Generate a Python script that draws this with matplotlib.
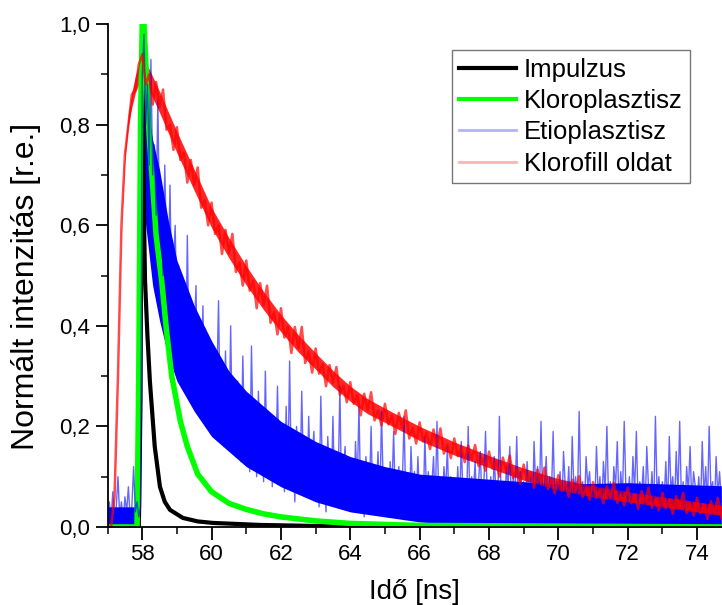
import numpy as np
import matplotlib.pyplot as plt
from matplotlib.lines import Line2D
from matplotlib.ticker import MultipleLocator, FuncFormatter

plt.rcParams['font.family'] = ['Liberation Sans', 'DejaVu Sans']

# Impulzus (fekete)
black_t = [57.0, 57.9, 57.95, 57.98, 58.0, 58.05, 58.08, 58.15, 58.22, 58.36, 58.51,
           58.65, 58.8, 59.17, 59.6, 60.04, 61.4, 63.0, 74.7]
black_v = [0.0, 0.0, 0.25, 0.8, 1.0, 0.62, 0.49, 0.38, 0.29, 0.16, 0.08,
           0.05, 0.034, 0.018, 0.011, 0.008, 0.004, 0.002, 0.001]

# Kloroplasztisz (zold)
green_t = [57.0, 57.85, 57.9, 57.95, 58.0, 58.05, 58.2, 58.4, 58.56, 58.7, 58.85, 59.1,
           59.3, 59.6, 60.0, 60.5, 61.0, 61.5, 62.0, 63.0, 64.0, 66.0, 74.7]
green_v = [0.0, 0.0, 0.3, 0.8, 1.0, 1.0, 0.78, 0.58, 0.49, 0.39, 0.30, 0.21,
           0.16, 0.105, 0.07, 0.047, 0.035, 0.026, 0.02, 0.012, 0.007, 0.003, 0.0]

# Etioplasztisz (kek) - 0.05 ns lepes
blue_t = np.round(np.arange(57.0, 74.701, 0.05), 2)
blue_v = [
    0.03, 0.05, 0.01, 0.07, 0.02, 0.04, 0.10, 0.02, 0.05, 0.01, 0.06, 0.03, 0.08, 0.02, 0.04, 0.12, 0.03, 0.05, 0.02, 0.04,
    0.90, 0.98, 0.80, 0.88, 0.72, 0.93, 0.70, 0.76, 0.62, 0.85, 0.58, 0.66, 0.50, 0.72, 0.55, 0.48, 0.68, 0.45, 0.52, 0.60,
    0.40, 0.52, 0.33, 0.46, 0.38, 0.30, 0.58, 0.35, 0.42, 0.27, 0.38, 0.48, 0.25, 0.34, 0.29, 0.44, 0.22, 0.36, 0.28, 0.31,
    0.24, 0.33, 0.19, 0.28, 0.45, 0.20, 0.26, 0.16, 0.35, 0.22, 0.18, 0.40, 0.17, 0.24, 0.14, 0.29, 0.21, 0.13, 0.34, 0.18,
    0.15, 0.23, 0.11, 0.36, 0.17, 0.20, 0.10, 0.27, 0.14, 0.18, 0.09, 0.31, 0.13, 0.16, 0.22, 0.08, 0.19, 0.12, 0.28, 0.11,
    0.13, 0.18, 0.07, 0.24, 0.11, 0.33, 0.09, 0.15, 0.05, 0.20, 0.12, 0.08, 0.27, 0.10, 0.16, 0.06, 0.22, 0.09, 0.14, 0.19,
    0.08, 0.14, 0.04, 0.26, 0.09, 0.12, 0.03, 0.18, 0.10, 0.07, 0.22, 0.05, 0.13, 0.09, 0.28, 0.04, 0.11, 0.16, 0.06, 0.10,
    0.07, 0.12, 0.03, 0.17, 0.08, 0.24, 0.05, 0.10, 0.02, 0.14, 0.09, 0.06, 0.20, 0.04, 0.11, 0.07, 0.15, 0.03, 0.23, 0.08,
    0.06, 0.10, 0.02, 0.13, 0.07, 0.19, 0.04, 0.09, 0.12, 0.03, 0.08, 0.22, 0.05, 0.10, 0.02, 0.16, 0.07, 0.11, 0.04, 0.14,
    0.05, 0.09, 0.02, 0.18, 0.06, 0.11, 0.03, 0.08, 0.14, 0.04, 0.21, 0.06, 0.09, 0.02, 0.12, 0.07, 0.16, 0.03, 0.10, 0.05,
    0.08, 0.04, 0.12, 0.03, 0.17, 0.06, 0.09, 0.02, 0.20, 0.05, 0.10, 0.07, 0.13, 0.03, 0.09, 0.15, 0.04, 0.08, 0.19, 0.06,
    0.05, 0.10, 0.03, 0.14, 0.07, 0.04, 0.22, 0.06, 0.09, 0.02, 0.12, 0.08, 0.16, 0.04, 0.10, 0.06, 0.18, 0.03, 0.11, 0.07,
    0.09, 0.04, 0.13, 0.06, 0.10, 0.02, 0.17, 0.07, 0.12, 0.04, 0.21, 0.05, 0.08, 0.14, 0.03, 0.10, 0.06, 0.19, 0.04, 0.09,
    0.06, 0.11, 0.03, 0.15, 0.08, 0.05, 0.12, 0.02, 0.18, 0.07, 0.10, 0.04, 0.23, 0.06, 0.09, 0.03, 0.14, 0.08, 0.11, 0.05,
    0.08, 0.04, 0.16, 0.06, 0.10, 0.03, 0.13, 0.07, 0.20, 0.05, 0.09, 0.02, 0.12, 0.08, 0.17, 0.04, 0.11, 0.06, 0.21, 0.07,
    0.05, 0.10, 0.03, 0.14, 0.07, 0.19, 0.04, 0.09, 0.06, 0.12, 0.02, 0.16, 0.08, 0.05, 0.11, 0.03, 0.22, 0.06, 0.10, 0.04,
    0.09, 0.05, 0.13, 0.03, 0.18, 0.07, 0.10, 0.04, 0.15, 0.06, 0.21, 0.05, 0.09, 0.02, 0.12, 0.07, 0.16, 0.04, 0.11, 0.08,
    0.05, 0.10, 0.03, 0.17, 0.06, 0.12, 0.04, 0.20, 0.07, 0.09, 0.03, 0.14, 0.06, 0.11, 0.05,
]
# a kek sav suru resze (also es felso szel)
blue_core_t = [57.0, 57.95, 58.0, 58.1, 58.2, 58.3, 58.5, 58.75, 59.0, 59.5, 60.0, 60.5,
               61.0, 62.0, 63.0, 64.0, 65.0, 66.0, 68.0, 70.0, 72.0, 74.7]
blue_core_lo = [0.0, 0.0, 0.66, 0.60, 0.54, 0.48, 0.41, 0.34, 0.29, 0.23, 0.18, 0.15,
                0.12, 0.08, 0.05, 0.03, 0.02, 0.01, 0.0, 0.0, 0.0, 0.0]
blue_core_hi = [0.04, 0.04, 0.92, 0.86, 0.81, 0.77, 0.71, 0.61, 0.53, 0.44, 0.37, 0.31,
                0.27, 0.21, 0.17, 0.14, 0.12, 0.105, 0.095, 0.085, 0.088, 0.082]

# Klorofill oldat (piros) - 0.1 ns lepes
red_t = np.round(np.arange(57.0, 74.701, 0.1), 1)
red_v = [
    0.0, 0.0, 0.06, 0.30, 0.60, 0.74, 0.80, 0.86, 0.87, 0.92,
    0.94, 0.88, 0.90, 0.84, 0.885, 0.835, 0.87, 0.79, 0.80, 0.75,
    0.795, 0.73, 0.745, 0.685, 0.73, 0.68, 0.715, 0.635, 0.65, 0.60,
    0.645, 0.583, 0.60, 0.543, 0.591, 0.545, 0.583, 0.507, 0.526, 0.48,
    0.53, 0.47, 0.49, 0.435, 0.485, 0.44, 0.48, 0.406, 0.427, 0.383,
    0.435, 0.377, 0.399, 0.346, 0.398, 0.355, 0.398, 0.326, 0.349, 0.307,
    0.355, 0.305, 0.324, 0.28, 0.322, 0.287, 0.318, 0.263, 0.281, 0.248,
    0.288, 0.245, 0.263, 0.222, 0.265, 0.232, 0.268, 0.212, 0.232, 0.202,
    0.245, 0.204, 0.222, 0.185, 0.227, 0.196, 0.232, 0.176, 0.197, 0.166,
    0.208, 0.17, 0.188, 0.155, 0.194, 0.163, 0.196, 0.146, 0.165, 0.137,
    0.176, 0.141, 0.157, 0.129, 0.162, 0.134, 0.163, 0.121, 0.137, 0.112,
    0.15, 0.116, 0.131, 0.1, 0.138, 0.111, 0.142, 0.097, 0.114, 0.086,
    0.124, 0.092, 0.108, 0.078, 0.114, 0.088, 0.118, 0.075, 0.093, 0.067,
    0.103, 0.072, 0.088, 0.06, 0.094, 0.072, 0.101, 0.06, 0.077, 0.054,
    0.089, 0.058, 0.075, 0.047, 0.081, 0.059, 0.088, 0.048, 0.065, 0.043,
    0.078, 0.047, 0.064, 0.036, 0.071, 0.049, 0.078, 0.038, 0.055, 0.033,
    0.068, 0.037, 0.054, 0.026, 0.061, 0.039, 0.068, 0.028, 0.045, 0.023,
    0.058, 0.027, 0.044, 0.016, 0.051, 0.029, 0.058, 0.018,
]
# a piros sav kozepe es felszelessege
red_core_t = [57.0, 57.12, 57.2, 57.28, 57.35, 57.42, 57.5, 57.6, 57.7, 57.8, 57.9, 58.0, 58.2,
              58.5, 59.0, 59.5, 60.0, 60.5, 61.0, 61.5, 62.0, 62.5, 63.0, 63.5, 64.0, 64.5,
              65.0, 66.0, 67.0, 68.0, 69.0, 70.0, 71.0, 72.0, 73.0, 74.0, 74.7]
red_mid = [0.0, 0.005, 0.06, 0.25, 0.48, 0.63, 0.74, 0.81, 0.85, 0.88, 0.90, 0.91, 0.89,
           0.845, 0.765, 0.69, 0.615, 0.555, 0.50, 0.45, 0.405, 0.365, 0.33, 0.295, 0.265, 0.24,
           0.222, 0.186, 0.156, 0.13, 0.105, 0.085, 0.071, 0.06, 0.05, 0.04, 0.033]
red_hw = [0.002, 0.002, 0.003, 0.003, 0.004, 0.006, 0.009, 0.012, 0.015, 0.017, 0.019, 0.021, 0.021,
          0.021, 0.021, 0.021, 0.02, 0.02, 0.019, 0.018, 0.017, 0.017, 0.016, 0.016, 0.015, 0.015,
          0.014, 0.014, 0.013, 0.012, 0.012, 0.011, 0.011, 0.01, 0.01, 0.01, 0.01]

labels = ['Impulzus', 'Kloroplasztisz', 'Etioplasztisz', 'Klorofill oldat']

fig = plt.figure(figsize=(7.22, 6.05), dpi=100)
ax = fig.add_axes([0.149, 0.129, 0.851, 0.831])

ax.plot(black_t, black_v, color='black', lw=3)
ax.plot(green_t, green_v, color='#00ff00', lw=4)
ax.fill_between(blue_core_t, blue_core_lo, blue_core_hi, color='#0000ff', lw=0)
ax.plot(blue_t, blue_v, color='#0000ff', lw=1.0, alpha=0.6)
mid = np.array(red_mid)
hw = np.array(red_hw)
ax.plot(red_t, red_v, color='#ff0000', lw=1.8, alpha=0.7)
ax.fill_between(red_core_t, mid - hw, mid + hw, color='#ff0000', lw=0, alpha=0.85)

ax.set_xlim(57, 74.72)
ax.set_ylim(0, 1.0)
ax.spines['top'].set_visible(False)
ax.spines['right'].set_visible(False)
ax.spines['left'].set_linewidth(1.3)
ax.spines['bottom'].set_linewidth(1.3)
ax.xaxis.set_major_locator(MultipleLocator(2))
ax.xaxis.set_minor_locator(MultipleLocator(1))
ax.yaxis.set_major_locator(MultipleLocator(0.2))
ax.yaxis.set_minor_locator(MultipleLocator(0.1))
ax.yaxis.set_major_formatter(FuncFormatter(lambda v, p: f'{v:.1f}'.replace('.', ',')))
ax.tick_params(which='major', direction='out', length=9, width=1.3, labelsize=16)
ax.tick_params(which='minor', direction='out', length=5, width=1.1)
ax.set_xlabel('Idő [ns]', fontsize=20, labelpad=10)
ax.set_ylabel('Normált intenzitás [r.e.]', fontsize=23)
ax.yaxis.set_label_coords(-0.108, 0.479)

handles = [Line2D([], [], color='black', lw=3),
           Line2D([], [], color='#00ff00', lw=3),
           Line2D([], [], color='#0000ff', lw=2, alpha=0.3),
           Line2D([], [], color='#ff0000', lw=2, alpha=0.3)]
leg = ax.legend(handles, labels, loc='upper right', bbox_to_anchor=(0.948, 0.948),
                borderaxespad=0, fontsize=18.5, fancybox=False, edgecolor='#555555',
                handlelength=2.2, handletextpad=0.3, labelspacing=0.28, borderpad=0.3)
leg.get_frame().set_linewidth(1.0)

fig.savefig('out.png', dpi=100)
